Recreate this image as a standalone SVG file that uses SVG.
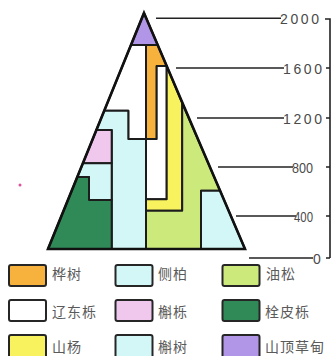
<svg xmlns="http://www.w3.org/2000/svg" width="334" height="356" viewBox="0 0 334 356">
<defs>
<style>
.r{stroke:#1c1c1c;stroke-width:2;stroke-linejoin:round}
.sw{stroke:#262626;stroke-width:2;stroke-linejoin:round}
.tk{stroke:#222;stroke-width:1.6;fill:none}
.num{font-family:"Liberation Sans",Arial,sans-serif;font-size:14px;fill:#4a4a4a}
.lb{font-family:"Noto Sans CJK SC","Noto Sans",sans-serif;font-size:14px;fill:#5a5a5a;letter-spacing:1px}
.purple{fill:#B195E6}.orange{fill:#F6B23C}.white{fill:#FFFFFF}.yellow{fill:#F7F25E}
.lgreen{fill:#CCE97C}.cyan{fill:#D3F6F6}.pink{fill:#F0C8EE}.dgreen{fill:#2F8A58}
</style>
</defs>
<rect width="334" height="356" fill="#fff"/>
<g id="mountain">
<polygon id="meadow" class="r purple" points="144,13 157.7,45 131,45"/>
<polygon id="birch" class="r orange" points="146,45 157.7,45 166.7,66 156.7,66 156.7,139 146,139"/>
<polygon id="oak-left" class="r white" points="131,45 146,45 146,139 128.3,139 128.3,110.7 104.3,110.7"/>
<polygon id="oak-strip" class="r white" points="156.7,66 166.7,66 166.7,199.3 146,199.3 146,139 156.7,139"/>
<polygon id="aspen" class="r yellow" points="166.7,66 182.2,103 182.2,210.7 146,210.7 146,199.3 166.7,199.3"/>
<polygon id="pine" class="r lgreen" points="182.2,103 220.1,190.7 201,190.7 201,249 146,249 146,210.7 182.2,210.7"/>
<polygon id="dentata" class="r cyan" points="201,190.7 220.1,190.7 245,249 201,249"/>
<polygon id="arborvitae" class="r cyan" points="104.3,110.7 128.3,110.7 128.3,139 146,139 146,249 111.7,249 111.7,130 96.4,130"/>
<polygon id="aliena" class="r pink" points="96.4,130 111.7,130 111.7,163.3 82.9,163.3"/>
<polygon id="arborvitae-2" class="r cyan" points="82.9,163.3 111.7,163.3 111.7,200 89,200 89,177 77.3,177"/>
<polygon id="cork-oak" class="r dgreen" points="77.3,177 89,177 89,200 111.7,200 111.7,249 48,249"/>
<polygon id="outline" points="144,13 245,249 48,249" fill="none" stroke="#111" stroke-width="2.6" stroke-linejoin="miter"/>
</g>
<g id="connectors">
<line class="tk" x1="156" y1="18.3" x2="281" y2="18.3"/>
<line class="tk" x1="176" y1="68" x2="284" y2="68"/>
<line class="tk" x1="197" y1="118" x2="284" y2="118"/>
<line class="tk" x1="218" y1="167" x2="293" y2="167"/>
<line class="tk" x1="236" y1="216" x2="296" y2="216"/>
<line class="tk" x1="249" y1="258" x2="313" y2="258"/>
<path class="tk" d="M325,19 H330 V258 M326,68 H330 M326,118 H330 M326,167 H330 M326,216 H330 M326,258 H330"/>
</g>
<g id="scale-labels">
<text class="num" x="280" y="24" textLength="39" lengthAdjust="spacing">2000</text>
<text class="num" x="283" y="74" textLength="39" lengthAdjust="spacing">1600</text>
<text class="num" x="283" y="124" textLength="39" lengthAdjust="spacing">1200</text>
<text class="num" x="292" y="172.5" textLength="21" lengthAdjust="spacingAndGlyphs">800</text>
<text class="num" x="294" y="221.5" textLength="19" lengthAdjust="spacingAndGlyphs">400</text>
<text class="num" x="313" y="264">0</text>
</g>
<circle cx="20" cy="185" r="1.5" fill="#E0529A"/>
<g id="legend">
<g id="lg-birch"><rect class="sw orange" x="9" y="265" width="37" height="21" rx="2"/><text class="lb" x="52" y="279">桦树</text></g>
<g id="lg-arborvitae"><rect class="sw cyan" x="115.5" y="265" width="37" height="21" rx="2"/><text class="lb" x="158" y="279">侧柏</text></g>
<g id="lg-pine"><rect class="sw lgreen" x="222.5" y="265" width="37" height="21" rx="2"/><text class="lb" x="266" y="279">油松</text></g>
<g id="lg-oak"><rect class="sw white" x="9" y="300" width="37" height="21" rx="2"/><text class="lb" x="52" y="316.5">辽东栎</text></g>
<g id="lg-aliena"><rect class="sw pink" x="115.5" y="300" width="37" height="21" rx="2"/><text class="lb" x="158" y="316.5">槲栎</text></g>
<g id="lg-cork"><rect class="sw dgreen" x="222.5" y="300" width="37" height="21" rx="2"/><text class="lb" x="265" y="316.5">栓皮栎</text></g>
<g id="lg-aspen"><rect class="sw yellow" x="9" y="335" width="37" height="24" rx="2"/><text class="lb" x="52" y="352">山杨</text></g>
<g id="lg-dentata"><rect class="sw cyan" x="115.5" y="335" width="37" height="24" rx="2"/><text class="lb" x="158" y="352">槲树</text></g>
<g id="lg-meadow"><rect class="sw purple" x="222.5" y="335" width="37" height="24" rx="2"/><text class="lb" x="265" y="352">山顶草甸</text></g>
</g>
</svg>
